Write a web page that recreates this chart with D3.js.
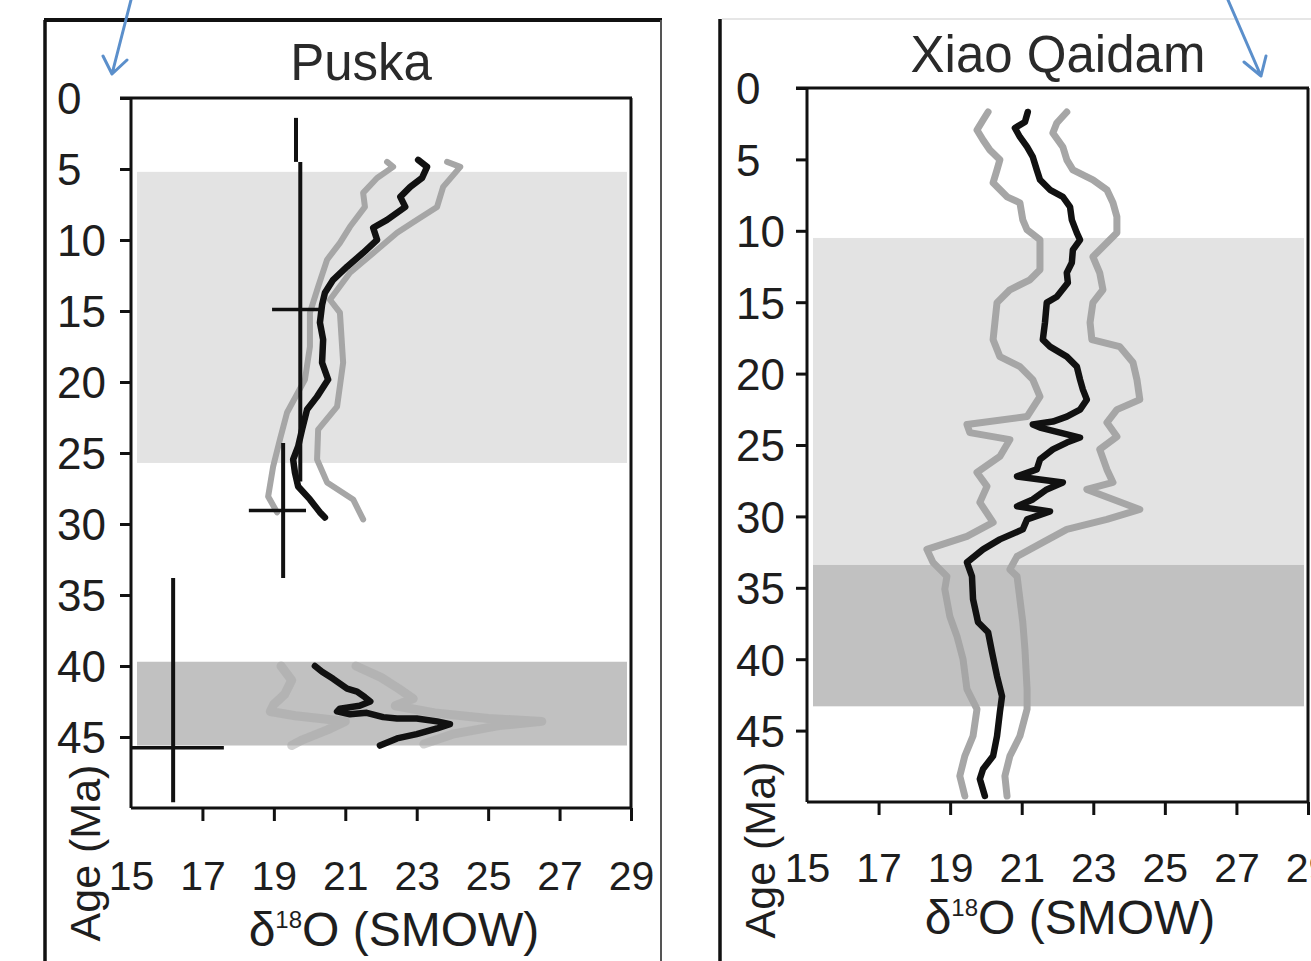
<!DOCTYPE html>
<html><head><meta charset="utf-8">
<script src="https://cdn.jsdelivr.net/npm/d3@7"></script>
<style>
body{margin:0;background:#fff;}
svg{display:block;}
text{font-family:"Liberation Sans",Arial,Helvetica,sans-serif;fill:#1e1e1e;}
</style>
</head><body>
<svg id="chart" width="1311" height="961"></svg>
<script>
// ---------------- DATA ----------------
const ageTicks = [0,5,10,15,20,25,30,35,40,45];
const d18Ticks = [15,17,19,21,23,25,27,29];
const ageLabel = "Age (Ma)";
const puskaTitle = "Puska";
const xqTitle = "Xiao Qaidam";

// shaded intervals [ageFrom, ageTo]
const puskaLightBand = [5.2, 25.7];
const puskaDarkBand = [39.7, 45.6];
const xqLightBand = [10.5, 33.4];
const xqDarkBand = [33.4, 43.3];

// Puska: [d18O, age]
const puskaMeanUpper = [[23.04,4.36],[23.29,4.85],[23.15,5.63],[22.82,6.26],[22.54,6.96],[22.68,7.67],[22.17,8.58],[21.78,9.14],[21.89,9.99],[21.50,10.90],[21.05,11.88],[20.66,12.80],[20.43,13.71],[20.35,14.56],[20.29,15.82],[20.38,17.02],[20.35,18.64],[20.52,19.83],[20.21,21.03],[19.93,21.94],[19.79,23.35],[19.68,24.54],[19.54,25.46],[19.59,26.37],[19.68,27.36],[20.01,28.27],[20.29,29.18],[20.43,29.54]];
const puskaLowUpper = [[22.17,4.50],[22.34,4.85],[21.89,5.63],[21.50,6.68],[21.55,7.67],[21.13,9.07],[20.85,10.20],[20.49,11.39],[20.24,13.29],[20.01,15.12],[20.01,17.51],[19.87,19.83],[19.37,22.15],[19.17,24.05],[18.98,25.95],[18.84,28.06],[19.09,29.18]];
const puskaHighUpper = [[23.85,4.50],[24.22,4.85],[23.74,6.26],[23.57,7.67],[23.01,8.58],[22.45,9.49],[21.89,10.69],[21.13,12.31],[20.57,14.21],[20.85,15.12],[20.94,18.64],[20.77,21.73],[20.24,23.35],[20.21,25.46],[20.49,27.07],[21.22,28.27],[21.50,29.68]];
const puskaMeanLower = [[20.15,40.0],[20.35,40.4],[20.66,40.9],[21.05,41.6],[21.33,41.8],[21.55,42.2],[21.70,42.5],[21.40,42.8],[20.85,43.0],[20.77,43.2],[21.13,43.4],[21.60,43.3],[22.06,43.6],[22.45,43.7],[23.00,43.7],[23.57,43.9],[23.93,44.1],[23.57,44.4],[23.00,44.8],[22.45,45.1],[21.97,45.6]];
const puskaLowLower = [[19.2,40.0],[19.5,41.0],[19.3,42.0],[19.0,42.7],[18.9,43.2],[19.6,43.5],[20.3,43.7],[21.0,43.9],[20.5,44.5],[19.8,45.2],[19.5,45.6]];
const puskaHighLower = [[21.3,40.0],[22.0,40.8],[22.5,41.6],[22.9,42.3],[22.4,42.8],[23.5,43.3],[25.0,43.7],[26.5,43.9],[25.3,44.2],[24.0,44.8],[23.2,45.5]];

// Puska age-control error bars
const puskaAgeBars = [[19.62,1.4,4.5],[19.74,4.5,27.0],[19.26,24.3,33.8],[16.18,33.8,49.6]]; // [d18O, ageTop, ageBottom]
const puskaD18Bars = [[14.9,18.95,20.35],[29.05,18.3,19.9],[45.75,15.0,17.6]]; // [age, d18Left, d18Right]

// Xiao Qaidam: [d18O, age]
const xqMean = [[21.17,1.68],[21.09,2.38],[20.81,2.80],[20.95,3.43],[21.15,4.13],[21.31,4.83],[21.42,5.73],[21.51,6.43],[21.79,7.13],[22.15,7.62],[22.35,8.32],[22.40,9.23],[22.54,10.14],[22.63,10.63],[22.43,11.33],[22.40,12.24],[22.26,12.94],[22.29,13.64],[21.98,14.62],[21.70,15.03],[21.65,16.43],[21.59,17.62],[21.79,18.11],[22.26,18.81],[22.54,19.51],[22.63,20.42],[22.71,21.12],[22.82,21.82],[22.63,22.52],[22.26,23.01],[21.87,23.36],[21.31,23.57],[21.51,23.78],[22.07,24.13],[22.63,24.48],[22.26,24.83],[21.87,25.31],[21.51,26.01],[21.42,26.71],[20.87,27.20],[21.51,27.41],[22.15,27.62],[21.70,28.11],[21.31,28.81],[20.87,29.30],[21.79,29.65],[21.15,30.21],[21.03,30.91],[20.39,31.61],[19.92,32.31],[19.47,33.22],[19.61,34.20],[19.64,35.80],[19.78,37.41],[20.06,38.11],[20.17,39.51],[20.31,41.19],[20.45,42.59],[20.39,43.71],[20.31,45.38],[20.20,46.78],[19.92,47.69],[19.83,48.39],[19.97,49.58]];
const xqLow = [[20.06,1.68],[19.92,2.24],[19.75,2.94],[19.92,3.64],[20.11,4.34],[20.39,5.03],[20.31,5.73],[20.20,6.64],[20.59,7.62],[20.95,8.04],[21.03,9.23],[21.15,9.93],[21.51,10.63],[21.51,11.54],[21.51,12.73],[21.23,13.43],[20.67,14.13],[20.31,15.03],[20.25,16.43],[20.20,17.62],[20.39,18.81],[20.95,19.51],[21.31,20.42],[21.51,21.61],[21.15,23.01],[19.47,23.57],[19.55,24.13],[20.67,24.62],[20.39,25.80],[19.75,26.92],[20.03,27.90],[19.83,29.02],[20.20,30.42],[19.47,31.40],[18.35,32.31],[18.52,33.22],[18.91,34.20],[18.85,35.10],[18.99,36.99],[19.19,38.39],[19.36,40.00],[19.47,42.10],[19.75,43.50],[19.64,45.38],[19.41,46.78],[19.27,48.18],[19.41,49.58]];
const xqHigh = [[22.26,1.68],[21.98,2.45],[21.87,3.15],[22.15,4.13],[22.26,5.03],[22.43,5.73],[22.99,6.43],[23.38,7.13],[23.55,8.04],[23.66,9.02],[23.66,10.14],[23.38,10.84],[22.99,11.82],[23.18,12.94],[23.27,14.13],[22.99,15.03],[22.91,16.43],[22.96,17.62],[23.74,18.11],[24.11,19.23],[24.22,20.42],[24.30,21.82],[23.66,22.52],[23.38,23.43],[23.66,24.41],[23.18,25.31],[23.38,26.71],[23.55,27.62],[22.82,28.11],[24.30,29.51],[23.38,30.21],[22.26,30.91],[21.59,31.82],[20.87,32.80],[20.67,33.71],[20.87,34.20],[20.95,35.80],[21.03,37.41],[21.09,39.30],[21.15,42.10],[21.15,43.50],[20.95,45.38],[20.67,46.78],[20.53,48.18],[20.59,49.58]];

// ---------------- DRAWING ----------------
const svg = d3.select("#chart");
const BLACK = "#111", GRAY = "#a6a6a6", LIGHT = "#e3e3e3", DARK = "#c1c1c1";

// outer frames
svg.append("line").attr("x1",45).attr("y1",961).attr("x2",45).attr("y2",20).attr("stroke","#111").attr("stroke-width",3.5);
svg.append("line").attr("x1",44).attr("y1",20).attr("x2",662).attr("y2",20).attr("stroke","#111").attr("stroke-width",4);
svg.append("line").attr("x1",661).attr("y1",20).attr("x2",661).attr("y2",961).attr("stroke","#555").attr("stroke-width",2);
svg.append("line").attr("x1",720).attr("y1",19).attr("x2",720).attr("y2",961).attr("stroke","#111").attr("stroke-width",3.5);
svg.append("line").attr("x1",722).attr("y1",19).attr("x2",1311).attr("y2",19).attr("stroke","#e6e6e6").attr("stroke-width",2);

function panel(cfg){
  const x = d3.scaleLinear().domain([15,29]).range([cfg.left, cfg.right]);
  const y = d3.scaleLinear().domain([0,50]).range([cfg.top, cfg.bottom]);
  const g = svg.append("g");
  // bands
  cfg.bands.forEach(b=>{
    g.append("rect").attr("x",cfg.left+6).attr("width",cfg.right-cfg.left-10)
      .attr("y",y(b.range[0])).attr("height",y(b.range[1])-y(b.range[0])).attr("fill",b.fill);
  });
  const line = d3.line().x(d=>x(d[0])).y(d=>y(d[1]));
  cfg.grays.forEach(s=>{
    g.append("path").datum(s.data).attr("d",line).attr("fill","none").attr("stroke",GRAY)
      .attr("stroke-opacity",s.op||1).attr("stroke-width",s.w||6).attr("stroke-linejoin","round").attr("stroke-linecap","round");
  });
  (cfg.ageBars||[]).forEach(b=>{
    g.append("line").attr("x1",x(b[0])).attr("x2",x(b[0])).attr("y1",y(b[1])).attr("y2",y(b[2])).attr("stroke",BLACK).attr("stroke-width",4);
  });
  (cfg.d18Bars||[]).forEach(b=>{
    g.append("line").attr("y1",y(b[0])).attr("y2",y(b[0])).attr("x1",x(b[1])).attr("x2",x(b[2])).attr("stroke",BLACK).attr("stroke-width",3.5);
  });
  cfg.blacks.forEach(s=>{
    g.append("path").datum(s).attr("d",line).attr("fill","none").attr("stroke",BLACK)
      .attr("stroke-width",6.5).attr("stroke-linejoin","round").attr("stroke-linecap","round");
  });
  // frame of plot
  g.append("line").attr("x1",cfg.left-11).attr("x2",cfg.right+1).attr("y1",cfg.top).attr("y2",cfg.top).attr("stroke",BLACK).attr("stroke-width",3);
  g.append("line").attr("x1",cfg.right).attr("x2",cfg.right).attr("y1",cfg.top).attr("y2",cfg.bottom).attr("stroke",BLACK).attr("stroke-width",3);
  // y axis
  const ya = g.append("g").attr("transform",`translate(${cfg.left},0)`)
    .call(d3.axisLeft(y).tickValues(ageTicks).tickSize(11).tickFormat(d3.format("d")));
  ya.select(".domain").attr("d",`M0,${cfg.top}V${cfg.bottom}`).attr("stroke",BLACK).attr("stroke-width",3);
  ya.selectAll(".tick line").attr("stroke",BLACK).attr("stroke-width",3);
  ya.selectAll(".tick text").attr("x",cfg.yLabelX-cfg.left).attr("text-anchor","start").attr("dy","0.36em")
    .style("font-size","44px").style("fill","#1e1e1e");
  // x axis
  const xa = g.append("g").attr("transform",`translate(0,${cfg.bottom})`)
    .call(d3.axisBottom(x).tickValues(d18Ticks).tickSize(13).tickFormat(d3.format("d")));
  xa.select(".domain").attr("d",`M${cfg.left},0H${cfg.right+1}`).attr("stroke",BLACK).attr("stroke-width",3);
  xa.selectAll(".tick line").attr("stroke",BLACK).attr("stroke-width",3).style("display",d=>d===15?"none":null);
  xa.selectAll(".tick text").attr("y",cfg.xLabelY-cfg.bottom).attr("dy","0").style("font-size","41px").style("fill","#1e1e1e");
  // titles
  g.append("text").attr("x",cfg.titleX).attr("y",cfg.titleY).attr("text-anchor","middle").style("font-size","51px").style("fill","#2a2a2a").text(cfg.title);
  const xt = g.append("text").attr("x",cfg.xTitleX).attr("y",cfg.xTitleY).attr("text-anchor","middle").style("font-size","48px");
  xt.append("tspan").text("δ");
  xt.append("tspan").attr("dy",-18).style("font-size","24px").text("18");
  xt.append("tspan").attr("dy",18).text("O (SMOW)");
  g.append("text").attr("transform",`translate(${cfg.yTitleX},${cfg.yTitleY}) rotate(-90)`).attr("text-anchor","middle")
    .style("font-size","43px").text(ageLabel);
}

panel({left:131,right:631,top:98,bottom:808,
  bands:[{range:puskaLightBand,fill:LIGHT},{range:puskaDarkBand,fill:DARK}],
  grays:[{data:puskaLowUpper},{data:puskaHighUpper},{data:puskaLowLower,op:0.5,w:9},{data:puskaHighLower,op:0.5,w:9}],
  blacks:[puskaMeanUpper,puskaMeanLower],
  ageBars:puskaAgeBars, d18Bars:puskaD18Bars,
  yLabelX:57, xLabelY:890, title:puskaTitle, titleX:361, titleY:80,
  xTitleX:394, xTitleY:946, yTitleX:100, yTitleY:853});

panel({left:807,right:1308,top:88,bottom:802,
  bands:[{range:xqLightBand,fill:LIGHT},{range:xqDarkBand,fill:DARK}],
  grays:[{data:xqLow,w:7},{data:xqHigh,w:7}],
  blacks:[xqMean],
  yLabelX:736, xLabelY:882, title:xqTitle, titleX:1058, titleY:72,
  xTitleX:1070, xTitleY:934, yTitleX:775, yTitleY:850});

// blue annotation arrows
const arrows = [[[131,0],[112,74],[103,56],[127,60]],[[1228,0],[1261,76],[1244,62],[1266,56]]];
arrows.forEach(a=>{
  svg.append("path").attr("d",`M${a[0]}L${a[1]}M${a[2]}L${a[1]}L${a[3]}`).attr("fill","none")
    .attr("stroke","#5b8fcb").attr("stroke-width",3).attr("stroke-linecap","round").attr("stroke-linejoin","round");
});
</script>
</body></html>
